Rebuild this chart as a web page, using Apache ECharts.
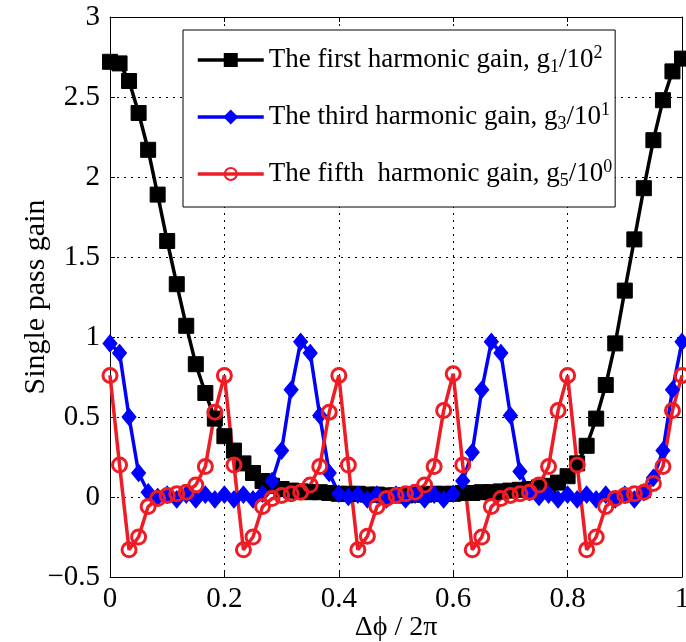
<!DOCTYPE html>
<html>
<head>
<meta charset="utf-8">
<script src="https://cdn.jsdelivr.net/npm/echarts@6/dist/echarts.min.js"></script>
<style>html,body{margin:0;padding:0;background:#fff;}#c{width:686px;height:642px;}</style>
</head>
<body>
<div id="c"></div>
<script>
// Δϕ/2π sample positions
const phase = [0,0.0167,0.0333,0.05,0.0667,0.0833,0.1,0.1167,0.1333,0.15,0.1667,0.1833,0.2,0.2167,0.2333,0.25,0.2667,0.2833,0.3,0.3167,0.3333,0.35,0.3667,0.3833,0.4,0.4167,0.4333,0.45,0.4667,0.4833,0.5,0.5167,0.5333,0.55,0.5667,0.5833,0.6,0.6167,0.6333,0.65,0.6667,0.6833,0.7,0.7167,0.7333,0.75,0.7667,0.7833,0.8,0.8167,0.8333,0.85,0.8667,0.8833,0.9,0.9167,0.9333,0.95,0.9667,0.9833,1];
// first harmonic gain g1/10^2
const gainFirst = [2.72,2.71,2.60,2.40,2.17,1.89,1.60,1.33,1.07,0.83,0.65,0.49,0.38,0.29,0.21,0.15,0.10,0.07,0.05,0.04,0.035,0.03,0.03,0.025,0.02,0.02,0.02,0.015,0.015,0.01,0.01,0.01,0.015,0.015,0.02,0.02,0.02,0.025,0.025,0.03,0.03,0.035,0.04,0.045,0.05,0.06,0.07,0.09,0.13,0.21,0.32,0.49,0.70,0.96,1.29,1.61,1.93,2.23,2.48,2.66,2.74];
// third harmonic gain g3/10^1
const gainThird = [0.96,0.90,0.50,0.15,0.03,0.00,0.015,-0.015,0.015,-0.015,0.015,-0.015,0.015,-0.015,0.015,-0.015,0.02,0.10,0.29,0.67,
  0.97,0.90,0.51,0.15,0.02,0.00,0.015,-0.015,0.015,-0.015,0.015,-0.015,0.015,-0.015,0.015,-0.015,0.02,0.10,0.28,0.67,
  0.97,0.90,0.51,0.16,0.03,0.00,0.015,-0.015,0.015,-0.015,0.015,-0.015,0.015,-0.015,0.015,-0.015,0.03,0.12,0.29,0.67,
  0.97];
// fifth harmonic gain g5/10^0
const gainFifth = [0.76,0.20,-0.33,-0.25,-0.06,-0.01,0.01,0.02,0.03,0.075,0.19,0.53,
  0.76,0.20,-0.33,-0.25,-0.06,-0.01,0.01,0.02,0.03,0.075,0.19,0.53,
  0.76,0.20,-0.33,-0.245,-0.06,-0.01,0.01,0.02,0.03,0.075,0.19,0.54,
  0.77,0.20,-0.33,-0.25,-0.06,-0.01,0.01,0.02,0.03,0.075,0.19,0.54,
  0.76,0.20,-0.33,-0.25,-0.06,-0.01,0.01,0.02,0.03,0.085,0.19,0.54,
  0.76];
const seriesNames = ['The first harmonic gain, g', 'The third harmonic gain, g', 'The fifth  harmonic gain, g'];
const seriesSubs = ['1', '3', '5'];
const seriesExps = ['2', '1', '0'];
const xTicks = [0, 0.2, 0.4, 0.6, 0.8, 1];
const yTicks = [-0.5, 0, 0.5, 1, 1.5, 2, 2.5, 3];
const xTitle = 'Δϕ / 2π';
const yTitle = 'Single pass gain';

const FONT = 'Liberation Serif';
const pairs = arr => arr.map((v, i) => [phase[i], v]);
const dotted = {show: true, lineStyle: {color: '#000', width: 1, type: [2, 5]}};

const chart = echarts.init(document.getElementById('c'), null, {renderer: 'canvas'});
const baseX = {type: 'value', min: xTicks[0], max: xTicks[xTicks.length - 1], interval: xTicks[1] - xTicks[0]};
const baseY = {type: 'value', min: yTicks[0], max: yTicks[yTicks.length - 1], interval: yTicks[1] - yTicks[0]};
const lab = {fontFamily: FONT, fontSize: 29, color: '#000'};

chart.setOption({
  animation: false,
  backgroundColor: '#fff',
  grid: {left: 110, right: 4, top: 17, bottom: 65, containLabel: false, outerBoundsMode: 'none'},
  xAxis: [
    Object.assign({}, baseX, {
      position: 'bottom',
      name: xTitle, nameLocation: 'middle', nameGap: 37, nameMoveOverlap: false,
      nameTextStyle: {fontFamily: FONT, fontSize: 28, color: '#000'},
      axisLine: {show: true, onZero: false, lineStyle: {color: '#000', width: 1}},
      axisTick: {show: true, inside: true, length: 5, lineStyle: {color: '#000'}},
      axisLabel: Object.assign({margin: 8, formatter: v => String(v)}, lab),
      splitLine: dotted
    }),
    Object.assign({}, baseX, {
      position: 'top',
      axisLine: {show: true, onZero: false, lineStyle: {color: '#000', width: 1}},
      axisTick: {show: true, inside: true, length: 5, lineStyle: {color: '#000'}},
      axisLabel: {show: false},
      splitLine: {show: false}
    })
  ],
  yAxis: [
    Object.assign({}, baseY, {
      position: 'left',
      name: yTitle, nameLocation: 'middle', nameGap: 59, nameRotate: 90, nameMoveOverlap: false,
      nameTextStyle: {fontFamily: FONT, fontSize: 30, color: '#000'},
      axisLine: {show: true, onZero: false, lineStyle: {color: '#000', width: 1}},
      axisTick: {show: true, inside: true, length: 5, lineStyle: {color: '#000'}},
      axisLabel: Object.assign({margin: 10, formatter: v => String(v).replace('-', '\u2212')}, lab),
      splitLine: dotted
    }),
    Object.assign({}, baseY, {
      position: 'right',
      axisLine: {show: true, onZero: false, lineStyle: {color: '#000', width: 1}},
      axisTick: {show: true, inside: true, length: 5, lineStyle: {color: '#000'}},
      axisLabel: {show: false},
      splitLine: {show: false}
    })
  ],
  legend: {
    orient: 'vertical', left: 183, top: 30,
    padding: [14, 3, 17, 13], itemGap: 25, itemWidth: 66, itemHeight: 15,
    backgroundColor: '#fff', borderColor: '#000', borderWidth: 1, borderRadius: 0,
    lineStyle: {width: 3.5},
    textStyle: {fontFamily: FONT, fontSize: 27, color: '#000',
      rich: {
        sub: {fontFamily: FONT, fontSize: 18, color: '#000', padding: [14, 0, 0, 0]},
        sup: {fontFamily: FONT, fontSize: 18, color: '#000', padding: [0, 0, 14, 0]}
      }},
    formatter: name => {
      const i = seriesNames.indexOf(name);
      return name + '{sub|' + seriesSubs[i] + '}/10{sup|' + seriesExps[i] + '}';
    },
    data: seriesNames
  },
  series: [
    {
      name: seriesNames[0], type: 'line', data: pairs(gainFirst),
      color: '#000',
      symbol: 'rect', symbolSize: 15,
      lineStyle: {color: '#000', width: 3.5},
      itemStyle: {color: '#000', borderColor: '#000', borderWidth: 1}
    },
    {
      name: seriesNames[1], type: 'line', data: pairs(gainThird),
      color: '#0000ff',
      symbol: 'diamond', symbolSize: [14, 17],
      lineStyle: {color: '#0000ff', width: 3.5},
      itemStyle: {color: '#0000ff', borderColor: '#0000ff', borderWidth: 1}
    },
    {
      name: seriesNames[2], type: 'line', data: pairs(gainFifth),
      color: '#ee1c25',
      symbol: 'circle', symbolSize: 14,
      lineStyle: {color: '#ee1c25', width: 3.5},
      itemStyle: {color: 'rgba(255,255,255,0)', borderColor: '#ee1c25', borderWidth: 3}
    }
  ]
});
</script>
</body>
</html>
